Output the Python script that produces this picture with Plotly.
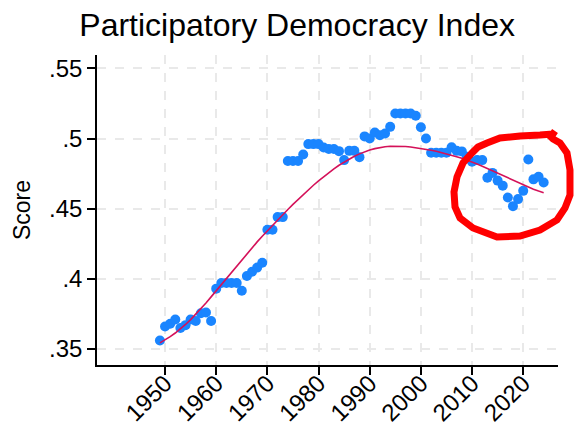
import numpy as np
import plotly.graph_objects as go

# yearly index values
years = list(range(1949, 2025))
scores = [
    0.356, 0.366, 0.368, 0.371, 0.365, 0.367, 0.371, 0.370, 0.3755, 0.376,  # 1949-1958
    0.370, 0.393, 0.397, 0.397, 0.397, 0.397, 0.3915, 0.402, 0.405, 0.408,  # 1959-1968
    0.4115, 0.435, 0.435, 0.444, 0.444, 0.484, 0.484, 0.484, 0.4886, 0.496,  # 1969-1978
    0.496, 0.496, 0.4936, 0.4925, 0.4925, 0.491, 0.4846, 0.4912, 0.4912, 0.4867,  # 1979-1988
    0.5015, 0.500, 0.5043, 0.5024, 0.5036, 0.5083, 0.5178, 0.5178, 0.5178, 0.5178,  # 1989-1998
    0.5162, 0.508, 0.500, 0.4898, 0.4898, 0.4898, 0.4898, 0.4938, 0.4912, 0.4908,  # 1999-2008
    0.487, 0.4834, 0.4846, 0.4846, 0.472, 0.4755, 0.470, 0.4664, 0.458, 0.4518,  # 2009-2018
    0.4568, 0.4627, 0.485, 0.4709, 0.4727, 0.4687,  # 2019-2024
]
xtick_vals = [1950, 1960, 1970, 1980, 1990, 2000, 2010, 2020]
ytick_vals = [0.35, 0.4, 0.45, 0.5, 0.55]
ytick_text = [".35", ".4", ".45", ".5", ".55"]


def lowess(x, y, bw=0.8):
    # stata-style lowess: tricube weights, local linear, no robustness steps
    x = np.asarray(x, float)
    y = np.asarray(y, float)
    n = len(x)
    k = int(np.floor((n * bw - 0.5) / 2))
    out = np.empty(n)
    for i in range(n):
        lo, hi = max(0, i - k), min(n - 1, i + k)
        xs, ys = x[lo:hi + 1], y[lo:hi + 1]
        d = 1.0001 * max(x[hi] - x[i], x[i] - x[lo])
        w = (1 - (np.abs(xs - x[i]) / d) ** 3) ** 3
        xm = np.sum(w * xs) / np.sum(w)
        ym = np.sum(w * ys) / np.sum(w)
        b = np.sum(w * (xs - xm) * (ys - ym)) / np.sum(w * (xs - xm) ** 2)
        out[i] = ym + b * (x[i] - xm)
    return out


fit = lowess(years, scores)

fig = go.Figure()
fig.add_trace(go.Scatter(x=years, y=scores, mode="markers",
                         marker=dict(color="#1A85FF", size=10, line=dict(width=0))))
fig.add_trace(go.Scatter(x=years, y=fit, mode="lines", line=dict(color="#D41159", width=1.6)))

W, H = 577, 427
L, R, T, B = 97, 19, 55, 62

# hand-drawn red loop (pixel positions on the page)
loop_px = [(553, 134), (540, 135), (520, 136), (500, 138), (487, 143), (478, 147), (472, 153),
           (463, 163), (457, 177), (454, 192), (455, 207), (460, 218), (473, 228), (497, 237),
           (520, 236), (540, 230), (557, 220), (565, 208), (570, 195), (570, 170), (567, 153),
           (560, 143), (553, 139), (551, 137), (555, 131)]
pw, ph = W - L - R, H - T - B
path = ""
for i, (px, py) in enumerate(loop_px):
    path += ("M" if i == 0 else "L") + f"{(px - L) / pw:.4f},{(H - B - py) / ph:.4f} "
fig.add_shape(type="path", path=path, xref="paper", yref="paper",
              line=dict(color="#FF0000", width=7))

grid = dict(showgrid=True, gridcolor="#E9E9E9", gridwidth=1.5, griddash="dash")
fig.update_xaxes(range=[1936.7, 2026.8], tickvals=xtick_vals, tickangle=-45,
                 ticks="outside", ticklen=8, tickwidth=1.5, tickcolor="black",
                 showline=True, linecolor="black", linewidth=1.5, zeroline=False,
                 automargin=False, ticklabelstandoff=-15,
                 tickfont=dict(size=24, color="black"), **grid)
fig.update_yaxes(range=[0.3386, 0.5595], tickvals=ytick_vals, ticktext=ytick_text,
                 ticks="outside", ticklen=8, tickwidth=1.5, tickcolor="black",
                 showline=True, linecolor="black", linewidth=1.5, zeroline=False,
                 automargin=False,
                 title=dict(text="Score", font=dict(size=23, color="black"), standoff=12),
                 tickfont=dict(size=24, color="black"), **grid)
fig.update_layout(
    width=W, height=H, margin=dict(l=L, r=R, t=T, b=B),
    paper_bgcolor="white", plot_bgcolor="white", showlegend=False,
    font=dict(family="Liberation Sans, Arial, sans-serif", color="black"),
    title=dict(text="Participatory Democracy Index", font=dict(size=32, color="black"),
               x=0.515, xanchor="center", xref="container",
               y=1 - 25 / H, yanchor="middle", yref="container"),
)

# drop the default page margin so the figure sits at the window's corner
fig.write_html("out.html", config={"displayModeBar": False},
               post_script="document.body.style.margin='0';")
